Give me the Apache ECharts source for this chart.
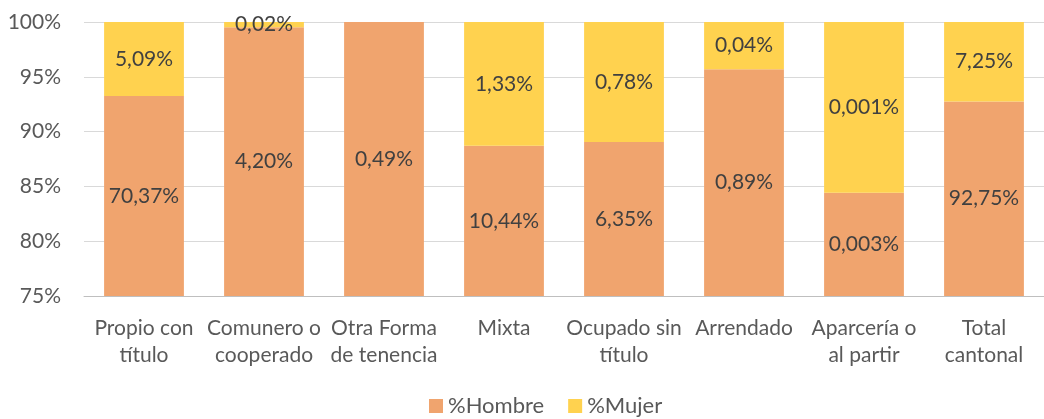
<!DOCTYPE html>
<html>
<head>
<meta charset="utf-8">
<script src="https://cdn.jsdelivr.net/npm/echarts@6/dist/echarts.min.js"></script>
<style>
  html, body { margin: 0; padding: 0; background: #fff; }
  #chart { width: 1044px; height: 419px; }
</style>
</head>
<body>
<div id="chart"></div>
<script>
// Tenencia de la tierra: participación por sexo (% del total cantonal)
const categories = [
  'Propio con\ntítulo', 'Comunero o\ncooperado', 'Otra Forma\nde tenencia', 'Mixta',
  'Ocupado sin\ntítulo', 'Arrendado', 'Aparcería o\nal partir', 'Total\ncantonal'
];
const hombre = [70.37, 4.20, 0.49, 10.44, 6.35, 0.89, 0.003, 92.75];
const mujer  = [5.09, 0.02, 0, 1.33, 0.78, 0.04, 0.000554, 7.25];
const yTicks = { min: 75, max: 100, step: 5 };

// Each bar is shown as a 100% stack of the two shares
const shareH = hombre.map((h, i) => h / (h + mujer[i]) * 100);
const shareM = mujer.map((m, i) => m / (hombre[i] + m) * 100);

function fmt(v) {
  const s = v < 0.01 ? v.toFixed(3) : v.toFixed(2);
  return s.replace('.', ',') + '%';
}

const font = 'Lato, "Open Sans", sans-serif';
const fs = 21;
const chart = echarts.init(document.getElementById('chart'));
chart.setOption({
  animation: false,
  textStyle: { fontFamily: font },
  grid: { left: 84, right: -13, top: 22, bottom: 123 },
  legend: {
    bottom: -3,
    left: 424,
    icon: 'rect',
    itemWidth: 14,
    itemHeight: 14,
    itemGap: 24,
    textStyle: { fontSize: 22, color: '#595959', fontFamily: font },
    data: ['%Hombre', '%Mujer']
  },
  xAxis: {
    type: 'category',
    data: categories,
    axisTick: { show: false },
    axisLine: { lineStyle: { color: '#bfbfbf', width: 1 } },
    axisLabel: { color: '#595959', fontSize: fs, lineHeight: 27, margin: 19, interval: 0, fontFamily: font }
  },
  yAxis: {
    type: 'value',
    min: yTicks.min,
    max: yTicks.max,
    interval: yTicks.step,
    axisLine: { show: false },
    axisTick: { show: false },
    splitLine: { lineStyle: { color: '#d9d9d9', width: 1 } },
    axisLabel: { color: '#595959', fontSize: fs, margin: 23, fontFamily: font, formatter: v => v + '%' }
  },
  series: [
    {
      name: '%Hombre',
      type: 'bar',
      stack: 'total',
      barCategoryGap: '33.5%',
      itemStyle: { color: '#F0A46E' },
      label: {
        show: true, position: 'inside', color: '#404040', fontSize: fs, fontFamily: font,
        formatter: p => fmt(hombre[p.dataIndex])
      },
      data: shareH
    },
    {
      name: '%Mujer',
      type: 'bar',
      stack: 'total',
      barCategoryGap: '33.5%',
      itemStyle: { color: '#FFD24F' },
      label: {
        show: true, position: 'inside', color: '#404040', fontSize: fs, fontFamily: font,
        formatter: p => mujer[p.dataIndex] > 0 ? fmt(mujer[p.dataIndex]) : ''
      },
      data: shareM
    }
  ]
});
</script>
</body>
</html>
